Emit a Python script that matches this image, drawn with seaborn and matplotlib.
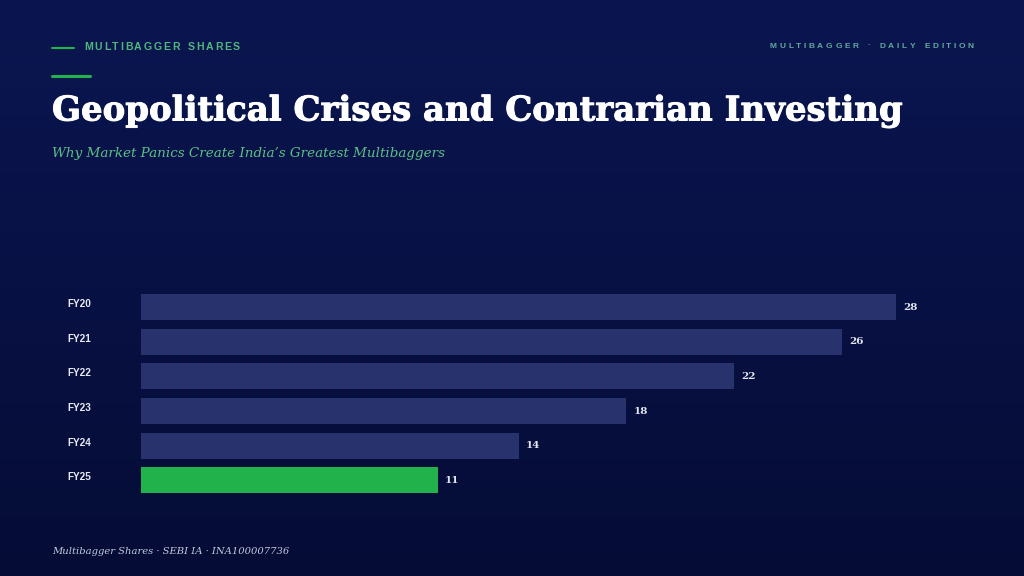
import matplotlib
matplotlib.use("Agg")
import matplotlib.pyplot as plt
import matplotlib.colors as mcolors
import matplotlib.patheffects as pe
from matplotlib.font_manager import FontProperties
import seaborn as sns
import numpy as np
import pandas as pd

years = ["FY20", "FY21", "FY22", "FY23", "FY24", "FY25"]
values = [28, 26, 22, 18, 14, 11]
bar_colors = ["#28336e", "#28336e", "#28336e", "#28336e", "#28336e", "#22b24c"]

title = "Geopolitical Crises and Contrarian Investing"
subtitle = "Why Market Panics Create India\u2019s Greatest Multibaggers"
kicker = "MULTIBAGGER SHARES"
edition = "MULTIBAGGER \u00b7 DAILY EDITION"
footer = "Multibagger Shares \u00b7 SEBI IA \u00b7 INA100007736"

df = pd.DataFrame({"year": years, "value": values})

sns.set_theme(style="white")
W, H = 1024, 576
fig = plt.figure(figsize=(W / 100, H / 100), dpi=100)

# background gradient
bg = fig.add_axes([0, 0, 1, 1])
cmap = mcolors.LinearSegmentedColormap.from_list("bg", ["#0b1651", "#050c36"])
grad = np.linspace(0, 1, 256).reshape(-1, 1)
bg.imshow(grad, aspect="auto", cmap=cmap, extent=[0, 1, 0, 1], origin="upper")
bg.set_axis_off()


def fx(px):
    return px / W


def fy(py):
    return 1 - py / H


def fit(txt, size, target):
    fig.canvas.draw()
    w = txt.get_window_extent().width
    txt.set_fontsize(size * target / w)


def tracked(x0, x1, y, s, size, color):
    # letter-spaced text stretched between x0 and x1 (pixels)
    fp = FontProperties(family="Liberation Sans", weight="bold", size=size)
    r = fig.canvas.get_renderer()
    widths = []
    for c in s:
        if c == " ":
            widths.append(0.45 * size * 100 / 72)
        else:
            tt = fig.text(0, 0, c, fontproperties=fp)
            widths.append(tt.get_window_extent(r).width)
            tt.remove()
    gap = (x1 - x0 - sum(widths)) / (len(s) - 1)
    x = x0
    for c, w in zip(s, widths):
        if c != " ":
            fig.text(fx(x), fy(y), c, fontproperties=fp, color=color,
                     va="center", ha="left")
        x += w + gap


serif_bold = FontProperties(family="DejaVu Serif", weight="bold", size=24)
serif_it = FontProperties(family="DejaVu Serif", style="italic", size=11)

# header decorations
fig.add_artist(plt.Line2D([fx(52), fx(74)], [fy(47.5), fy(47.5)], color="#22b24c", lw=1.5))
fig.add_artist(plt.Line2D([fx(52), fx(90)], [fy(76), fy(76)], color="#22b24c", lw=2.2))
tracked(84, 240, 47, kicker, 7.6, "#4fb67c")
tracked(770, 974, 46, edition, 6.0, "#64a89e")

# title, subtitle, footer sized to the reference widths
t = fig.text(fx(52), fy(111), title, color="white", fontproperties=serif_bold,
             va="center", ha="left",
             path_effects=[pe.withStroke(linewidth=0.7, foreground="white")])
fit(t, 24, 852)
s = fig.text(fx(52), fy(153), subtitle, color="#5cbf85", fontproperties=serif_it,
             va="center", ha="left")
fit(s, 11, 392)
f = fig.text(fx(52), fy(551), footer, color="#c5c9dc", fontproperties=serif_it.copy(),
             va="center", ha="left")
fit(f, 11, 236)

# chart
ax = fig.add_axes([fx(141), fy(497.5), (960 - 141) / W, 207.6 / H])
ax.set_facecolor("none")
sns.barplot(data=df, x="value", y="year", hue="year", palette=bar_colors,
            legend=False, width=0.75, orient="h", ax=ax, saturation=1, linewidth=0)
scale = 755 / 28
ax.set_xlim(0, 819 / scale)
ax.set_ylim(5.5, -0.5)
for i, v in enumerate(values):
    ax.text(v + 7 / scale, i, str(v), color="#e4e6f0", fontsize=7.5, fontweight="bold",
            family="DejaVu Serif", va="center", ha="left")
ax.set_xticks([])
ax.set_xlabel("")
ax.set_ylabel("")
ax.tick_params(axis="y", length=0, pad=36)
for lab in ax.get_yticklabels():
    lab.set_color("#e8eaf2")
    lab.set_fontsize(7.2)
    lab.set_fontweight("bold")
    lab.set_family("Liberation Sans")
    lab.set_va("baseline")
sns.despine(ax=ax, left=True, bottom=True)

fig.savefig("out.png", dpi=100, facecolor="#0a1448")
